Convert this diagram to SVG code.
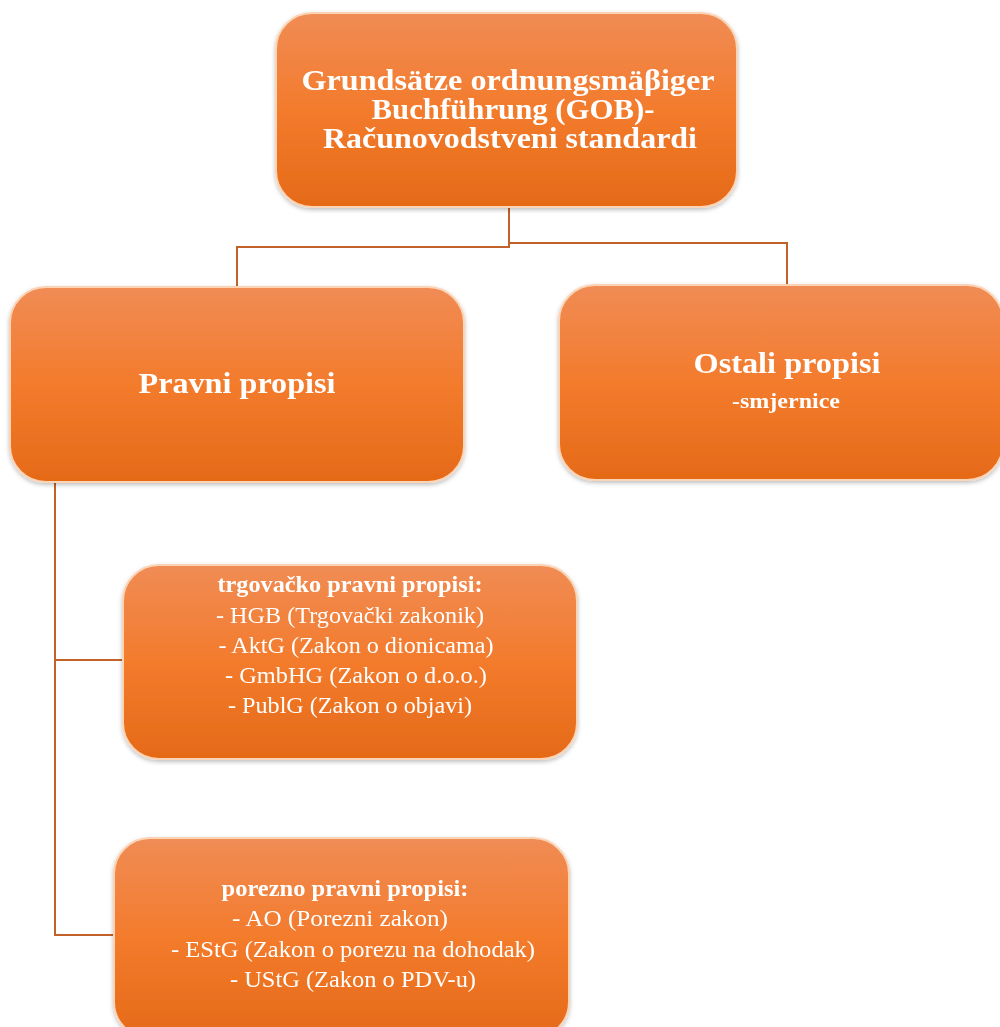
<svg xmlns="http://www.w3.org/2000/svg" width="1000" height="1027" viewBox="0 0 1000 1027">
<style>
.box{fill:url(#g);stroke:#FBD3B5;stroke-width:2}
.t{font-family:"Liberation Serif","Times New Roman",serif;fill:#FFFFFF;text-anchor:middle}
.b{font-weight:bold}
.h{font-size:29px}
.s{font-size:23px}
.c{fill:none;stroke:#C0622A;stroke-width:2}
</style>
<defs>
<linearGradient id="g" x1="0" y1="0" x2="0" y2="1">
<stop offset="0" stop-color="#F08C55"/>
<stop offset="0.5" stop-color="#F37B2C"/>
<stop offset="1" stop-color="#E56A18"/>
</linearGradient>
<filter id="sh" x="-5%" y="-5%" width="110%" height="115%">
<feDropShadow dx="0" dy="2" stdDeviation="2" flood-color="#000" flood-opacity="0.25"/>
</filter>
</defs>
<g id="connectors">
<polyline class="c" points="509,207 509,247 237,247 237,288"/>
<polyline class="c" points="509,243 787,243 787,286"/>
<polyline class="c" points="55,482 55,935 115,935"/>
<line class="c" x1="55" y1="660" x2="124" y2="660"/>
</g>
<g id="node-gob" filter="url(#sh)">
<rect class="box" x="276" y="13" width="461" height="194" rx="36"/>
<text class="t b h" x="508" y="90" textLength="413" lengthAdjust="spacingAndGlyphs">Grundsätze ordnungsmäβiger</text>
<text class="t b h" x="513" y="119" textLength="283" lengthAdjust="spacingAndGlyphs">Buchführung (GOB)-</text>
<text class="t b h" x="510" y="148" textLength="374" lengthAdjust="spacingAndGlyphs">Računovodstveni standardi</text>
</g>
<g id="node-pravni" filter="url(#sh)">
<rect class="box" x="10" y="287" width="454" height="195" rx="36"/>
<text class="t b h" x="237" y="393" textLength="197" lengthAdjust="spacingAndGlyphs">Pravni propisi</text>
</g>
<g id="node-ostali" filter="url(#sh)">
<rect class="box" x="559" y="285" width="444" height="195" rx="36"/>
<text class="t b h" x="787" y="373" textLength="187" lengthAdjust="spacingAndGlyphs">Ostali propisi</text>
<text class="t b" x="786" y="408" font-size="21" textLength="108" lengthAdjust="spacingAndGlyphs">-smjernice</text>
</g>
<g id="node-trgovacko" filter="url(#sh)">
<rect class="box" x="123" y="565" width="454" height="194" rx="36"/>
<text class="t b s" x="350" y="592" textLength="265" lengthAdjust="spacingAndGlyphs">trgovačko pravni propisi:</text>
<text class="t s" x="350" y="623" textLength="268" lengthAdjust="spacingAndGlyphs">- HGB (Trgovački  zakonik)</text>
<text class="t s" x="356" y="653" textLength="275" lengthAdjust="spacingAndGlyphs">- AktG (Zakon o dionicama)</text>
<text class="t s" x="356" y="683" textLength="262" lengthAdjust="spacingAndGlyphs">- GmbHG (Zakon o d.o.o.)</text>
<text class="t s" x="350" y="713" textLength="244" lengthAdjust="spacingAndGlyphs">- PublG (Zakon o objavi)</text>
</g>
<g id="node-porezno" filter="url(#sh)">
<rect class="box" x="114" y="838" width="455" height="200" rx="36"/>
<text class="t b s" x="345" y="896" textLength="247" lengthAdjust="spacingAndGlyphs">porezno pravni propisi:</text>
<text class="t s" x="340" y="926" textLength="216" lengthAdjust="spacingAndGlyphs">- AO (Porezni zakon)</text>
<text class="t s" x="353" y="957" textLength="364" lengthAdjust="spacingAndGlyphs">- EStG (Zakon o porezu na dohodak)</text>
<text class="t s" x="353" y="987" textLength="246" lengthAdjust="spacingAndGlyphs">- UStG (Zakon o PDV-u)</text>
</g>
</svg>
